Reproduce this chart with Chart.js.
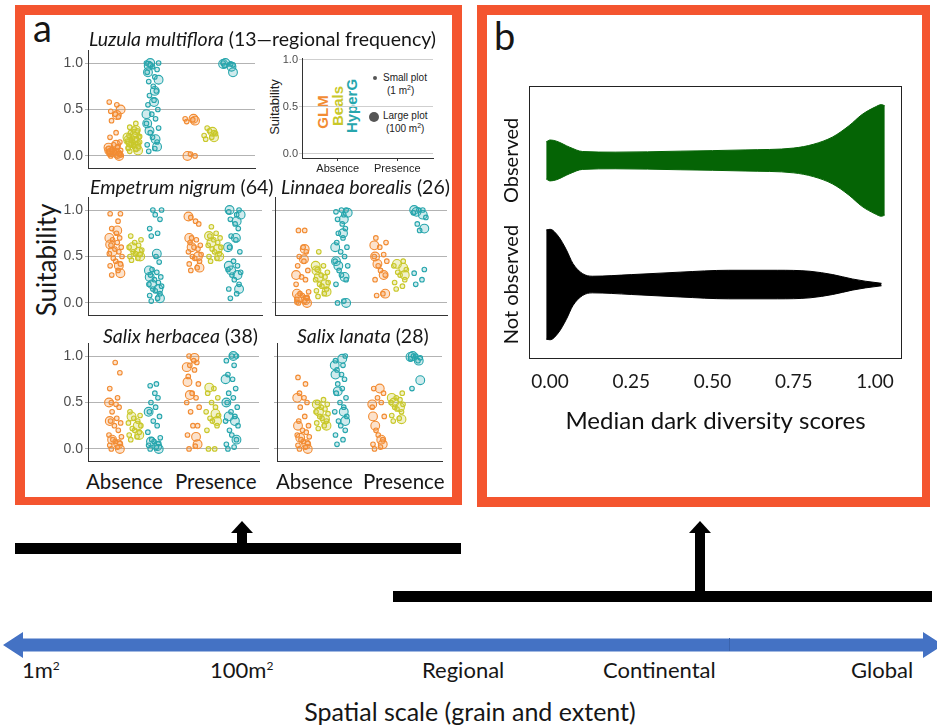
<!DOCTYPE html>
<html>
<head>
<meta charset="utf-8">
<script src="https://cdn.jsdelivr.net/npm/chart.js@4.4.1/dist/chart.umd.min.js"></script>
<style>
  body { margin: 0; width: 937px; height: 728px; position: relative; overflow: hidden; background: #fff; font-family: Lato, sans-serif; color: #161616; }
  .t { position: absolute; white-space: nowrap; line-height: 1; }
  canvas { position: absolute; }
  .frame { position: absolute; box-sizing: border-box; border: 10px solid #F4552F; }
  .blk { position: absolute; background: #000; }
  .rot { position: absolute; white-space: nowrap; line-height: 1; transform: translate(-50%, -50%) rotate(-90deg); }
</style>
</head>
<body>
<div class="frame" style="left:15px;top:5px;width:447px;height:500px;border-bottom-width:8px;"></div>
<div class="frame" style="left:477px;top:5px;width:453px;height:502px;border-right-width:8px;"></div>

<div class="t" style="left:33px;top:8px;font-size:38px;">a</div>
<div class="t" style="left:494px;top:16px;font-size:38px;">b</div>
<div class="rot" style="left:46px;top:260px;font-size:26px;">Suitability</div>

<!-- inset legend texts -->
<div class="rot" style="left:274px;top:107px;font:13px 'Liberation Sans';color:#222;">Suitability</div>
<div class="rot" style="left:322px;top:112px;font:bold 15px 'Liberation Sans';color:#F28C33;">GLM</div>
<div class="rot" style="left:337px;top:106px;font:bold 15px 'Liberation Sans';color:#C9C82A;">Beals</div>
<div class="rot" style="left:351px;top:106px;font:bold 15px 'Liberation Sans';color:#27A6AD;">HyperG</div>
<div style="position:absolute;left:373px;top:76px;width:4px;height:4px;border-radius:50%;background:#555;"></div>
<div style="position:absolute;left:369px;top:112px;width:10px;height:10px;border-radius:50%;background:#555;"></div>
<div class="t" style="left:383px;top:72px;font:10px 'Liberation Sans';color:#222;">Small plot</div>
<div class="t" style="left:387px;top:84px;font:10px 'Liberation Sans';color:#222;">(1 m<sup style="font-size:7px">2</sup>)</div>
<div class="t" style="left:383px;top:110px;font:10px 'Liberation Sans';color:#222;">Large plot</div>
<div class="t" style="left:386px;top:122px;font:10px 'Liberation Sans';color:#222;">(100 m<sup style="font-size:7px">2</sup>)</div>

<!-- spatial scale section -->
<div class="blk" style="left:15px;top:543px;width:446px;height:11px;"></div>
<div class="blk" style="left:237px;top:532px;width:10px;height:12px;"></div>
<div class="blk" style="left:231px;top:521px;width:22px;height:12px;clip-path:polygon(50% 0,100% 100%,0 100%);"></div>
<div class="blk" style="left:393px;top:591px;width:539px;height:11px;"></div>
<div class="blk" style="left:695px;top:532px;width:10px;height:60px;"></div>
<div class="blk" style="left:689px;top:521px;width:22px;height:12px;clip-path:polygon(50% 0,100% 100%,0 100%);"></div>
<div style="position:absolute;left:3px;top:632px;width:940px;height:26px;background:#4472C4;clip-path:polygon(0 50%,20px 0,20px 25%,calc(100% - 20px) 25%,calc(100% - 20px) 0,100% 50%,calc(100% - 20px) 100%,calc(100% - 20px) 75%,20px 75%,20px 100%);"></div>
<div style="position:absolute;left:729px;top:638px;width:1px;height:13px;background:#3a63ad;"></div>
<div class="t" style="left:22px;top:659px;font-size:22px;">1m<sup style="font-size:12px">2</sup></div>
<div class="t" style="left:210px;top:659px;font-size:22px;">100m<sup style="font-size:12px">2</sup></div>
<div class="t" style="left:422px;top:659px;font-size:22px;">Regional</div>
<div class="t" style="left:603px;top:659px;font-size:22px;">Continental</div>
<div class="t" style="left:851px;top:659px;font-size:22px;">Global</div>
<div class="t" style="left:470px;top:699px;font-size:25px;transform:translateX(-50%);">Spatial scale (grain and extent)</div>

<script>
// ---- data ----
const SPECIES = ['Luzula multiflora', 'Empetrum nigrum', 'Linnaea borealis', 'Salix herbacea', 'Salix lanata'];
const FREQ = ['13\u2014regional frequency', '64', '26', '38', '28'];
const GROUPS = ['Absence', 'Presence'];
const METHODS = ['GLM', 'Beals', 'HyperG'];
const SUIT_TICKS = [0, 0.5, 1];
const SCORE_TICKS = [0, 0.25, 0.5, 0.75, 1];
const VIOLIN_GROUPS = ['Not observed', 'Observed'];

// suitability values, one list per species in SPECIES order
// small plots (1 m2) and large plots (100 m2)
const GLM_ABS_1M = [
  [0, 0.01, 0.02, 0.03, 0.04, 0.05, 0.06, 0.08, 0.1, 0.12, 0.15, 0.2, 0.25, 0.38, 0.42, 0.45, 0.48, 0.55, 0.58, 0.02, 0.04, 0.07, 0.01, 0.05, 0.09],
  [0.3, 0.35, 0.4, 0.42, 0.45, 0.48, 0.5, 0.53, 0.55, 0.58, 0.6, 0.62, 0.65, 0.68, 0.7, 0.75, 0.8, 0.88, 0.96, 0.96],
  [0, 0.02, 0.04, 0.06, 0.08, 0.1, 0.12, 0.2, 0.25, 0.28, 0.35, 0.4, 0.45, 0.5, 0.55, 0.6, 0.78, 0.78, 0.01, 0.05],
  [0, 0.02, 0.04, 0.06, 0.08, 0.1, 0.13, 0.15, 0.2, 0.25, 0.28, 0.3, 0.33, 0.4, 0.45, 0.48, 0.5, 0.55, 0.65, 0.82, 0.93],
  [0, 0.02, 0.04, 0.06, 0.08, 0.1, 0.13, 0.15, 0.18, 0.2, 0.25, 0.3, 0.35, 0.45, 0.5, 0.55, 0.6, 0.7, 0.77]
];
const GLM_ABS_100M = [
  [0, 0.02, 0.04, 0.06, 0.09, 0.12, 0.44, 0.5],
  [0.32, 0.4, 0.55, 0.63, 0.7, 0.78],
  [0, 0.03, 0.06, 0.1, 0.3, 0.47, 0.58],
  [0, 0.05, 0.1, 0.3, 0.5],
  [0, 0.05, 0.12, 0.25, 0.55]
];
const BEALS_ABS_1M = [
  [0.05, 0.07, 0.09, 0.1, 0.12, 0.13, 0.15, 0.16, 0.18, 0.19, 0.2, 0.22, 0.23, 0.25, 0.27, 0.29, 0.31, 0.35, 0.08, 0.14, 0.11, 0.17, 0.21],
  [0.46, 0.48, 0.5, 0.52, 0.53, 0.55, 0.57, 0.6, 0.62, 0.65, 0.68, 0.72],
  [0.07, 0.1, 0.13, 0.15, 0.18, 0.2, 0.22, 0.25, 0.28, 0.3, 0.33, 0.36, 0.4, 0.55],
  [0.1, 0.13, 0.15, 0.18, 0.2, 0.22, 0.25, 0.28, 0.3, 0.33, 0.36, 0.4],
  [0.22, 0.25, 0.28, 0.3, 0.33, 0.35, 0.38, 0.4, 0.43, 0.45, 0.48, 0.5, 0.53]
];
const BEALS_ABS_100M = [
  [0.06, 0.1, 0.14, 0.17, 0.2, 0.24, 0.28],
  [0.5, 0.55, 0.6],
  [0.12, 0.2, 0.28, 0.35, 0.4],
  [0.15, 0.25, 0.35],
  [0.25, 0.32, 0.4, 0.48]
];
const HYPERG_ABS_1M = [
  [0.05, 0.08, 0.12, 0.15, 0.2, 0.25, 0.3, 0.35, 0.4, 0.45, 0.5, 0.55, 0.6, 0.65, 0.7, 0.75, 0.8, 0.85, 0.9, 0.93, 0.96, 0.98, 1, 1],
  [0.02, 0.05, 0.08, 0.1, 0.13, 0.15, 0.18, 0.2, 0.22, 0.25, 0.28, 0.3, 0.33, 0.36, 0.44, 0.5, 0.72, 0.75, 0.8, 0.9, 0.95, 1, 1],
  [0, 0.02, 0.2, 0.25, 0.3, 0.35, 0.4, 0.45, 0.5, 0.55, 0.6, 0.65, 0.7, 0.75, 0.8, 0.85, 0.9, 0.95, 0.98, 1, 1],
  [0, 0.02, 0.04, 0.06, 0.08, 0.1, 0.12, 0.18, 0.25, 0.3, 0.35, 0.4, 0.45, 0.5, 0.55, 0.6, 0.68, 0.7],
  [0.05, 0.1, 0.15, 0.2, 0.25, 0.3, 0.35, 0.4, 0.45, 0.5, 0.55, 0.6, 0.65, 0.7, 0.75, 0.8, 0.85, 0.9, 0.95, 1]
];
const HYPERG_ABS_100M = [
  [0.1, 0.18, 0.27, 0.35, 0.45, 0.58, 0.7, 0.82, 0.9, 0.97, 1],
  [0.05, 0.15, 0.2, 0.28, 0.35, 0.53],
  [0, 0.28, 0.4, 0.45, 0.6, 0.75, 0.9, 0.97],
  [0, 0.03, 0.08, 0.4],
  [0.3, 0.4, 0.62, 0.8, 0.9, 0.97]
];
const GLM_PRES_1M = [
  [0.37, 0.39, 0.4, 0, 0.02],
  [0.35, 0.38, 0.42, 0.45, 0.48, 0.5, 0.52, 0.55, 0.58, 0.6, 0.62, 0.65, 0.68, 0.7, 0.85, 0.88, 0.92],
  [0.08, 0.1, 0.25, 0.3, 0.35, 0.4, 0.45, 0.5, 0.52, 0.6, 0.65, 0.7],
  [0, 0.03, 0.15, 0.25, 0.25, 0.4, 0.45, 0.5, 0.55, 0.6, 0.7, 0.78, 0.85, 0.9, 0.93, 0.95, 1],
  [0, 0.02, 0.05, 0.1, 0.15, 0.2, 0.35, 0.45, 0.5, 0.55, 0.6, 0.65]
];
const GLM_PRES_100M = [
  [0.38, 0.4, 0],
  [0.38, 0.5, 0.6, 0.7, 0.93],
  [0.1, 0.3, 0.42, 0.5, 0.62],
  [0.05, 0.13, 0.58, 0.72, 0.88, 0.98],
  [0.05, 0.1, 0.25, 0.35, 0.48, 0.65]
];
const BEALS_PRES_1M = [
  [0.18, 0.2, 0.22, 0.25, 0.27, 0.3, 0.24],
  [0.45, 0.48, 0.5, 0.53, 0.55, 0.58, 0.6, 0.62, 0.65, 0.68, 0.7, 0.72, 0.75, 0.82],
  [0.15, 0.18, 0.22, 0.25, 0.3, 0.33, 0.36, 0.4, 0.45],
  [0, 0, 0.2, 0.25, 0.3, 0.33, 0.36, 0.4, 0.45, 0.5, 0.55, 0.6, 0.65],
  [0.3, 0.33, 0.36, 0.4, 0.43, 0.45, 0.48, 0.5, 0.53, 0.55, 0.6]
];
const BEALS_PRES_100M = [
  [0.2, 0.26],
  [0.5, 0.58, 0.65, 0.72],
  [0.3, 0.38, 0.42],
  [0.3, 0.38, 0.66],
  [0.32, 0.45, 0.5, 0.55]
];
const HYPERG_PRES_1M = [
  [0.97, 0.99, 1, 0.98],
  [0.05, 0.1, 0.15, 0.2, 0.25, 0.3, 0.33, 0.36, 0.4, 0.45, 0.55, 0.6, 0.68, 0.72, 0.8, 0.85, 0.9, 0.95, 0.98, 1],
  [0.2, 0.25, 0.32, 0.36, 0.78, 0.85, 0.92, 0.97, 1, 1],
  [0, 0.02, 0.05, 0.1, 0.15, 0.2, 0.25, 0.3, 0.35, 0.4, 0.45, 0.5, 0.55, 0.6, 0.65, 0.75, 0.8, 0.9, 0.95, 1, 1],
  [0.65, 0.95, 0.97, 0.98, 1, 1]
];
const HYPERG_PRES_100M = [
  [0.9, 0.96, 1, 0.99],
  [0.15, 0.3, 0.35, 0.4, 0.6, 0.7, 0.88, 0.95, 1],
  [0.8, 0.95, 0.98, 1],
  [0.1, 0.3, 0.35, 0.5, 0.75, 1],
  [0.74, 0.95, 1, 0.99]
];

// violin outlines: x positions and half widths
const OBS_X = [-0.012, 0, 0.02, 0.06, 0.1, 0.2, 0.4, 0.6, 0.75, 0.81, 0.87, 0.92, 0.96, 1.0, 1.02, 1.03];
const OBS_HALF = [0.15, 0.165, 0.155, 0.107, 0.072, 0.067, 0.075, 0.085, 0.1, 0.13, 0.19, 0.28, 0.37, 0.43, 0.45, 0.44];
const NOT_X = [-0.012, 0, 0.025, 0.05, 0.07, 0.1, 0.13, 0.25, 0.4, 0.55, 0.7, 0.8, 0.87, 0.93, 0.97, 1.02];
const NOT_HALF = [0.44, 0.445, 0.39, 0.28, 0.17, 0.088, 0.067, 0.08, 0.1, 0.115, 0.115, 0.107, 0.08, 0.045, 0.027, 0.01];

const SUIT = {
  GLM:    { Absence: [GLM_ABS_1M, GLM_ABS_100M],       Presence: [GLM_PRES_1M, GLM_PRES_100M] },
  Beals:  { Absence: [BEALS_ABS_1M, BEALS_ABS_100M],   Presence: [BEALS_PRES_1M, BEALS_PRES_100M] },
  HyperG: { Absence: [HYPERG_ABS_1M, HYPERG_ABS_100M], Presence: [HYPERG_PRES_1M, HYPERG_PRES_100M] }
};

// ---- styling ----
const COLORS = { GLM: '#F28C33', Beals: '#C9C82A', HyperG: '#27A6AD' };
const FILLS = { GLM: 'rgba(242,140,51,0.25)', Beals: 'rgba(201,200,42,0.25)', HyperG: 'rgba(39,166,173,0.22)' };
const OFFSET = { GLM: -0.25, Beals: 0, HyperG: 0.25 };
const JITTER = [-0.05, 0.03, -0.07, 0.06, 0.0, -0.03, 0.08, -0.08, 0.04, -0.01, 0.07, -0.06, 0.02, -0.04, 0.05, 0.01];
const PLOT_BOXES = [
  { left: 88, top: 50, w: 167, yLabels: true, title: [89, 29], xText: null },
  { left: 88, top: 197, w: 174, yLabels: true, title: [90, 177], xText: null },
  { left: 275, top: 197, w: 172, yLabels: false, title: [281, 177], xText: null },
  { left: 88, top: 343, w: 171, yLabels: true, title: [103, 326], xText: [86, 175] },
  { left: 277, top: 343, w: 165, yLabels: false, title: [297, 326], xText: [276, 363] }
];
const AREA_H = 120;

Chart.defaults.font.family = 'Lato';
Chart.defaults.animation = false;

// keep the plot area exactly where the layout puts it
function noPad(sc) { sc.paddingTop = 0; sc.paddingBottom = 0; sc.paddingLeft = 0; sc.paddingRight = 0; }

function addCanvas(left, top, w, h) {
  const c = document.createElement('canvas');
  c.width = w; c.height = h;
  c.style.left = left + 'px'; c.style.top = top + 'px';
  c.style.width = w + 'px'; c.style.height = h + 'px';
  document.body.appendChild(c);
  return c;
}

function addText(html, left, top, size) {
  const d = document.createElement('div');
  d.className = 't';
  d.style.left = left + 'px'; d.style.top = top + 'px'; d.style.fontSize = size + 'px';
  d.innerHTML = html;
  document.body.appendChild(d);
}

// small suitability panels
PLOT_BOXES.forEach((box, s) => {
  const yW = box.yLabels ? 34 : 8;
  const padTop = 6, padRight = 6, xH = 4;
  const canvas = addCanvas(box.left - yW, box.top - padTop, yW + box.w + padRight, padTop + AREA_H + xH);

  const datasets = [];
  METHODS.forEach(m => {
    GROUPS.forEach((g, gi) => {
      SUIT[m][g].forEach((bySpecies, size) => {
        const vals = bySpecies[s];
        datasets.push({
          data: vals.map((v, i) => ({ x: gi + 1 + OFFSET[m] + JITTER[(i * (size ? 5 : 1) + size * 3) % JITTER.length], y: v })),
          pointRadius: size ? 4.4 : 2.3,
          borderWidth: 1.1,
          borderColor: COLORS[m],
          backgroundColor: FILLS[m]
        });
      });
    });
  });

  new Chart(canvas, {
    type: 'scatter',
    data: { datasets },
    options: {
      responsive: false,
      devicePixelRatio: 1,
      events: [],
      layout: { padding: { top: padTop, right: padRight, left: 0, bottom: 0 } },
      plugins: { legend: { display: false }, tooltip: { enabled: false } },
      scales: {
        x: {
          type: 'linear', min: 0.4, max: 2.6,
          afterBuildTicks: sc => { sc.ticks = GROUPS.map((g, i) => ({ value: i + 1 })); },
          afterFit: sc => { sc.height = xH; noPad(sc); },
          grid: { display: false },
          border: { color: '#333', width: 1 },
          ticks: { display: false }
        },
        y: {
          min: -0.135, max: 1.14,
          afterBuildTicks: sc => { sc.ticks = SUIT_TICKS.map(v => ({ value: v })); },
          afterFit: sc => { sc.width = yW; noPad(sc); },
          grid: { color: '#b3b3b3', tickLength: 3 },
          border: { color: '#333', width: 1 },
          ticks: {
            display: box.yLabels, color: '#4d4d4d', padding: 2,
            font: { size: 14, family: 'Liberation Sans' },
            callback: v => v.toFixed(1)
          }
        }
      }
    }
  });

  addText('<i>' + SPECIES[s] + '</i> (' + FREQ[s] + ')', box.title[0], box.title[1], 19.5);
  if (box.xText) GROUPS.forEach((g, i) => addText(g, box.xText[i], 471, 20.5));
});

// inset legend axes
(function () {
  const yW = 36, padTop = 6, padRight = 8, xH = 22;
  const canvas = addCanvas(302 - yW, 58 - padTop, yW + 131 + padRight, padTop + 100 + xH);
  new Chart(canvas, {
    type: 'scatter',
    data: { datasets: [] },
    options: {
      responsive: false,
      devicePixelRatio: 1,
      events: [],
      layout: { padding: { top: padTop, right: padRight } },
      plugins: { legend: { display: false }, tooltip: { enabled: false } },
      scales: {
        x: {
          type: 'linear', min: 0.4, max: 2.6,
          afterBuildTicks: sc => { sc.ticks = GROUPS.map((g, i) => ({ value: i + 1 })); },
          afterFit: sc => { sc.height = xH; noPad(sc); },
          grid: { drawOnChartArea: false, tickLength: 3, color: '#333' },
          border: { color: '#333' },
          ticks: { color: '#222', font: { size: 11, family: 'Liberation Sans' }, padding: 1, maxRotation: 0, autoSkip: false, callback: v => GROUPS[v - 1] }
        },
        y: {
          min: -0.046, max: 1.021,
          afterBuildTicks: sc => { sc.ticks = SUIT_TICKS.map(v => ({ value: v })); },
          afterFit: sc => { sc.width = yW; noPad(sc); },
          grid: { color: '#cfcfcf', tickLength: 3 },
          border: { color: '#333' },
          ticks: { color: '#4d4d4d', font: { size: 11, family: 'Liberation Sans' }, padding: 1, callback: v => v.toFixed(1) }
        }
      }
    }
  });
})();

// panel b: violins of median dark diversity scores
const violinFrame = {
  id: 'violinFrame',
  afterDraw(chart) {
    const { ctx, chartArea: a, scales: { y } } = chart;
    ctx.save();
    ctx.strokeStyle = '#222';
    ctx.lineWidth = 1;
    ctx.strokeRect(a.left + 0.5, a.top + 0.5, a.right - a.left - 1, a.bottom - a.top - 1);
    ctx.fillStyle = '#111';
    ctx.font = '20px Lato';
    ctx.textAlign = 'center';
    ctx.textBaseline = 'middle';
    VIOLIN_GROUPS.forEach((g, i) => {
      ctx.save();
      ctx.translate(a.left - 17, y.getPixelForValue(i + 1));
      ctx.rotate(-Math.PI / 2);
      ctx.fillText(g, 0, 0);
      ctx.restore();
    });
    ctx.restore();
  }
};

function violin(xs, half, center, color) {
  const common = { pointRadius: 0, borderWidth: 1, borderColor: color, cubicInterpolationMode: 'monotone' };
  return [
    Object.assign({ data: xs.map((x, i) => ({ x, y: center + half[i] })), fill: false }, common),
    Object.assign({ data: xs.map((x, i) => ({ x, y: center - half[i] })), fill: '-1', backgroundColor: color }, common)
  ];
}

(function () {
  const canvas = addCanvas(490, 80, 425, 360);
  new Chart(canvas, {
    type: 'line',
    data: {
      datasets: [
        ...violin(NOT_X, NOT_HALF, 1, '#000000'),
        ...violin(OBS_X, OBS_HALF, 2, '#056405')
      ]
    },
    options: {
      responsive: false,
      devicePixelRatio: 1,
      events: [],
      layout: { padding: { top: 6, right: 13 } },
      plugins: { legend: { display: false }, tooltip: { enabled: false } },
      scales: {
        x: {
          type: 'linear', min: -0.065, max: 1.083,
          afterBuildTicks: sc => { sc.ticks = SCORE_TICKS.map(v => ({ value: v })); },
          afterFit: sc => { sc.height = 81; noPad(sc); },
          grid: { display: false },
          border: { display: false },
          ticks: { color: '#1a1a1a', font: { size: 19 }, padding: 3, maxRotation: 0, autoSkip: false, callback: v => v.toFixed(2) },
          title: { display: true, text: 'Median dark diversity scores', color: '#111', font: { size: 24 }, padding: { top: 6 } }
        },
        y: {
          type: 'linear', min: 0.4, max: 2.6,
          afterFit: sc => { sc.width = 39; noPad(sc); },
          grid: { display: false },
          border: { display: false },
          ticks: { display: false }
        }
      }
    },
    plugins: [violinFrame]
  });
})();
</script>
</body>
</html>
